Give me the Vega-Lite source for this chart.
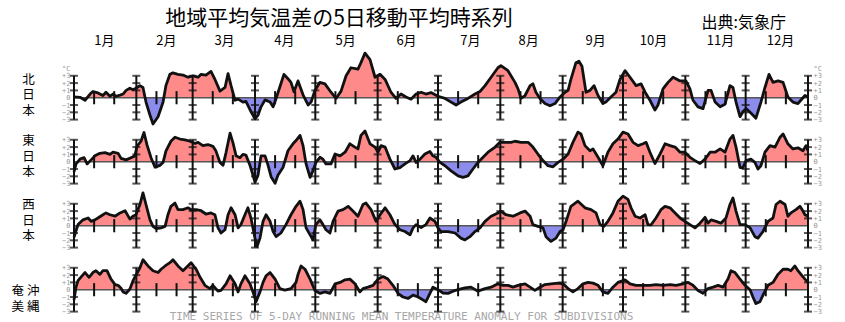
{
"$schema":"https://vega.github.io/schema/vega-lite/v6.json",
"background":"white",
"padding":{"left":11,"top":8,"right":0,"bottom":0},
"title":{"text":"地域平均気温差の5日移動平均時系列","font":"Noto Sans CJK JP","fontSize":21,"fontWeight":"normal","color":"#000","anchor":"middle","frame":"group","dx":-102,"offset":0,"dy":14},
"spacing":0,
"bounds":"flush",
"datasets":{
"n":[{"d":0,"v":0.1},{"d":3,"v":0.05},{"d":5.5,"v":-0.35},{"d":8,"v":0.5},{"d":9.4,"v":0.85},{"d":11.9,"v":0.65},{"d":14.4,"v":0.3},{"d":15.9,"v":0.75},{"d":17.9,"v":0.2},{"d":19.4,"v":0.5},{"d":20.9,"v":0.2},{"d":22.9,"v":0.35},{"d":24.4,"v":0.5},{"d":25.9,"v":1.0},{"d":27.8,"v":1.3},{"d":29.3,"v":1.1},{"d":30.8,"v":1.3},{"d":32.8,"v":1.65},{"d":34.3,"v":1.4},{"d":35.8,"v":-0.6},{"d":37.8,"v":-2.4},{"d":39.3,"v":-3.6},{"d":41.8,"v":-2.6},{"d":44.3,"v":-0.6},{"d":45.7,"v":1.65},{"d":47.7,"v":3.2},{"d":49.2,"v":3.4},{"d":51.7,"v":3.2},{"d":54.2,"v":3.1},{"d":56.7,"v":2.8},{"d":59.2,"v":3.0},{"d":61.7,"v":2.8},{"d":63.2,"v":3.2},{"d":65.6,"v":3.1},{"d":68.1,"v":3.6},{"d":70.1,"v":2.5},{"d":72.6,"v":0.9},{"d":75.1,"v":1.4},{"d":76.6,"v":3.3},{"d":78.1,"v":1.65},{"d":80.1,"v":-0.35},{"d":81.6,"v":-0.2},{"d":84,"v":-0.6},{"d":85.5,"v":-0.5},{"d":88,"v":-1.9},{"d":90,"v":-2.9},{"d":91.5,"v":-2.4},{"d":93,"v":-1.25},{"d":95,"v":-0.3},{"d":97.5,"v":-0.6},{"d":99,"v":-1.25},{"d":100.5,"v":-0.1},{"d":102.4,"v":1.5},{"d":104.4,"v":3.2},{"d":106.4,"v":2.6},{"d":107.9,"v":2.1},{"d":109.4,"v":0.8},{"d":111.4,"v":2.3},{"d":113.9,"v":0.4},{"d":116.4,"v":-1.0},{"d":117.9,"v":-0.6},{"d":119.8,"v":1.0},{"d":122.3,"v":2.1},{"d":124.8,"v":1.9},{"d":127.8,"v":0.75},{"d":130.3,"v":-0.1},{"d":132.8,"v":0.9},{"d":135.3,"v":3.0},{"d":137.7,"v":4.1},{"d":141.2,"v":3.9},{"d":142.7,"v":4.8},{"d":144.7,"v":6.1},{"d":147.2,"v":5.2},{"d":149.7,"v":2.8},{"d":152.2,"v":3.2},{"d":154.7,"v":2.5},{"d":157.6,"v":0.75},{"d":160.1,"v":-0.1},{"d":162.6,"v":0.5},{"d":165.1,"v":0.1},{"d":167.6,"v":-0.2},{"d":170.1,"v":0.5},{"d":172.6,"v":0.75},{"d":175,"v":0.5},{"d":177.5,"v":0.7},{"d":181,"v":0.2},{"d":184.5,"v":-0.1},{"d":187.5,"v":-0.6},{"d":190,"v":-1.0},{"d":192.4,"v":-0.6},{"d":195.9,"v":-0.1},{"d":199.4,"v":0.5},{"d":201.9,"v":0.85},{"d":204.4,"v":1.65},{"d":207.4,"v":2.8},{"d":210.8,"v":4.1},{"d":212.3,"v":4.4},{"d":215.8,"v":3.7},{"d":219.3,"v":2.1},{"d":220.8,"v":1.2},{"d":222.3,"v":-0.1},{"d":224.3,"v":0.3},{"d":226.8,"v":1.65},{"d":228.2,"v":1.9},{"d":229.7,"v":0.75},{"d":231.7,"v":-0.1},{"d":234.2,"v":-0.8},{"d":236.7,"v":-1.1},{"d":239.2,"v":-0.8},{"d":241.7,"v":0.1},{"d":244.2,"v":0.75},{"d":245.7,"v":1.0},{"d":247.1,"v":2.5},{"d":249.6,"v":4.8},{"d":251.1,"v":5.0},{"d":252.6,"v":4.3},{"d":254.6,"v":0.75},{"d":256.6,"v":1.0},{"d":258.6,"v":1.65},{"d":260.6,"v":0.3},{"d":263,"v":-0.8},{"d":264.5,"v":-0.6},{"d":267,"v":0.1},{"d":269.5,"v":0.75},{"d":271.5,"v":2.5},{"d":274,"v":3.7},{"d":276.5,"v":2.8},{"d":279.5,"v":1.65},{"d":282,"v":1.9},{"d":284,"v":0.75},{"d":286.4,"v":-0.35},{"d":288.9,"v":-1.7},{"d":290.4,"v":-1.0},{"d":292.9,"v":1.2},{"d":295.4,"v":2.1},{"d":297.9,"v":2.8},{"d":301.4,"v":2.3},{"d":304.3,"v":2.3},{"d":306.3,"v":1.2},{"d":307.8,"v":-0.35},{"d":310.3,"v":-1.25},{"d":312.8,"v":-1.5},{"d":315.3,"v":1.0},{"d":316.8,"v":1.0},{"d":318.8,"v":-0.6},{"d":321.3,"v":-1.25},{"d":323.7,"v":-0.9},{"d":326.2,"v":1.65},{"d":327.7,"v":1.4},{"d":329.2,"v":-0.6},{"d":331.2,"v":-2.6},{"d":332.7,"v":-1.9},{"d":334.2,"v":-1.5},{"d":336.6,"v":-2.1},{"d":339.1,"v":-2.8},{"d":341.6,"v":-0.6},{"d":343.6,"v":1.4},{"d":345.6,"v":3.2},{"d":347.6,"v":2.1},{"d":350.1,"v":2.3},{"d":352.6,"v":2.1},{"d":355,"v":0.1},{"d":357.5,"v":-0.6},{"d":360,"v":-0.8},{"d":363.5,"v":0.3},{"d":365,"v":0.1}],
"e":[{"d":0,"v":-1.4},{"d":1,"v":-0.3},{"d":3,"v":0.35},{"d":5,"v":0.55},{"d":6.5,"v":-0.3},{"d":8.5,"v":0.25},{"d":10.4,"v":0.8},{"d":12.9,"v":1.15},{"d":15.4,"v":1.25},{"d":17.9,"v":1.0},{"d":19.4,"v":1.3},{"d":21.9,"v":1.15},{"d":23.4,"v":0.45},{"d":25.9,"v":0.25},{"d":28.3,"v":0.55},{"d":30.3,"v":0.8},{"d":31.3,"v":2.1},{"d":33.3,"v":2.8},{"d":34.8,"v":4.0},{"d":36.3,"v":2.3},{"d":38.3,"v":0.55},{"d":40.3,"v":-0.75},{"d":42.8,"v":-0.5},{"d":44.3,"v":-0.1},{"d":45.7,"v":1.45},{"d":48.2,"v":2.8},{"d":50.2,"v":3.35},{"d":52.7,"v":3.1},{"d":55.2,"v":3.0},{"d":57.7,"v":2.8},{"d":60.2,"v":2.5},{"d":61.7,"v":2.65},{"d":64.1,"v":2.2},{"d":66.6,"v":2.35},{"d":69.1,"v":2.1},{"d":70.6,"v":1.45},{"d":72.6,"v":-0.1},{"d":74.1,"v":-0.5},{"d":75.6,"v":1.25},{"d":77.6,"v":3.9},{"d":79.1,"v":2.55},{"d":80.6,"v":0.8},{"d":82.5,"v":0.55},{"d":84,"v":1.0},{"d":85.5,"v":0.9},{"d":87.5,"v":-0.5},{"d":89,"v":-1.85},{"d":90,"v":-2.8},{"d":91.5,"v":-1.85},{"d":93,"v":0.8},{"d":95,"v":0.8},{"d":96.5,"v":-0.5},{"d":98,"v":-2.05},{"d":100,"v":-2.95},{"d":101.4,"v":-1.85},{"d":103.9,"v":-0.8},{"d":106.4,"v":1.5},{"d":108.9,"v":2.45},{"d":110.4,"v":2.9},{"d":112.4,"v":3.6},{"d":113.9,"v":2.2},{"d":115.4,"v":-0.3},{"d":117.4,"v":-2.15},{"d":118.8,"v":-1.25},{"d":120.3,"v":-0.1},{"d":122.3,"v":0.6},{"d":123.8,"v":0.35},{"d":125.3,"v":-0.3},{"d":127.8,"v":-0.3},{"d":129.8,"v":1.05},{"d":132.3,"v":0.8},{"d":134.8,"v":1.3},{"d":137.2,"v":2.45},{"d":139.7,"v":2.0},{"d":141.2,"v":1.75},{"d":142.7,"v":3.6},{"d":144.7,"v":4.2},{"d":147.2,"v":2.45},{"d":149.7,"v":2.0},{"d":151.2,"v":1.3},{"d":152.7,"v":2.2},{"d":154.7,"v":2.0},{"d":157.1,"v":0.35},{"d":159.6,"v":-1.0},{"d":162.1,"v":-0.8},{"d":164.6,"v":-0.3},{"d":167.1,"v":0.15},{"d":168.6,"v":0.8},{"d":170.1,"v":-0.1},{"d":172.1,"v":0.35},{"d":174.5,"v":1.05},{"d":177,"v":1.4},{"d":178.5,"v":0.8},{"d":180,"v":0.6},{"d":182,"v":-0.1},{"d":184.5,"v":-0.55},{"d":187.5,"v":-1.25},{"d":191,"v":-1.95},{"d":193.4,"v":-2.15},{"d":195.9,"v":-1.95},{"d":198.4,"v":-1.0},{"d":200.9,"v":-0.1},{"d":203.4,"v":0.6},{"d":205.9,"v":1.3},{"d":209.4,"v":2.0},{"d":211.8,"v":2.65},{"d":214.3,"v":2.65},{"d":217.3,"v":2.65},{"d":219.3,"v":2.8},{"d":222.3,"v":2.65},{"d":225.8,"v":2.65},{"d":228.2,"v":2.0},{"d":230.7,"v":1.05},{"d":233.2,"v":0.15},{"d":235.7,"v":-0.55},{"d":238.2,"v":-0.7},{"d":240.7,"v":-0.1},{"d":243.2,"v":0.35},{"d":245.7,"v":1.05},{"d":248.1,"v":2.65},{"d":250.6,"v":4.05},{"d":252.1,"v":3.8},{"d":254.1,"v":2.2},{"d":256.6,"v":1.5},{"d":258.1,"v":1.75},{"d":260.6,"v":0.6},{"d":263,"v":-0.55},{"d":265.5,"v":1.3},{"d":268,"v":2.45},{"d":270.5,"v":3.1},{"d":273,"v":4.05},{"d":275.5,"v":3.8},{"d":278,"v":2.65},{"d":280.5,"v":2.2},{"d":283,"v":2.45},{"d":284.5,"v":2.65},{"d":286.4,"v":1.3},{"d":288.9,"v":-0.25},{"d":291.4,"v":1.05},{"d":293.9,"v":2.45},{"d":296.4,"v":2.2},{"d":298.9,"v":2.0},{"d":301.4,"v":1.3},{"d":303.8,"v":1.3},{"d":306.3,"v":0.6},{"d":308.8,"v":0.15},{"d":311.3,"v":-0.25},{"d":313.8,"v":0.35},{"d":316.3,"v":1.3},{"d":318.8,"v":1.3},{"d":321.3,"v":1.75},{"d":323.7,"v":1.3},{"d":326.2,"v":3.1},{"d":327.7,"v":3.6},{"d":329.2,"v":2.0},{"d":331.2,"v":-0.8},{"d":332.7,"v":-0.8},{"d":334.2,"v":0.15},{"d":336.6,"v":0.35},{"d":338.6,"v":-0.1},{"d":340.1,"v":-1.0},{"d":341.6,"v":-0.55},{"d":343.6,"v":1.3},{"d":346.1,"v":2.2},{"d":348.6,"v":2.0},{"d":351.1,"v":3.35},{"d":352.6,"v":3.8},{"d":355,"v":2.45},{"d":357.5,"v":1.75},{"d":360,"v":1.9},{"d":362.5,"v":1.5},{"d":364,"v":2.2},{"d":365,"v":1.5}],
"w":[{"d":0,"v":-1.6},{"d":2,"v":0.15},{"d":4.5,"v":0.8},{"d":7,"v":1.05},{"d":8.5,"v":0.6},{"d":10.4,"v":0.8},{"d":11.9,"v":1.05},{"d":14.4,"v":1.5},{"d":15.9,"v":1.75},{"d":17.9,"v":1.5},{"d":20.4,"v":1.3},{"d":22.9,"v":1.75},{"d":25.4,"v":2.05},{"d":27.8,"v":0.9},{"d":29.3,"v":1.3},{"d":30.8,"v":1.5},{"d":32.8,"v":2.9},{"d":34.3,"v":4.5},{"d":35.8,"v":2.9},{"d":37.8,"v":0.8},{"d":39.3,"v":-0.1},{"d":40.8,"v":-0.4},{"d":43.3,"v":-0.3},{"d":45.3,"v":-0.1},{"d":46.7,"v":1.5},{"d":48.2,"v":2.65},{"d":50.2,"v":3.1},{"d":51.7,"v":2.2},{"d":54.2,"v":2.2},{"d":56.7,"v":2.45},{"d":58.2,"v":2.2},{"d":60.7,"v":2.2},{"d":63.2,"v":2.05},{"d":65.6,"v":1.6},{"d":68.1,"v":1.75},{"d":70.1,"v":1.5},{"d":71.6,"v":-0.3},{"d":73.1,"v":-1.0},{"d":75.1,"v":-0.55},{"d":76.6,"v":1.5},{"d":78.1,"v":2.45},{"d":80.1,"v":1.5},{"d":81.6,"v":-0.3},{"d":83,"v":0.15},{"d":85,"v":1.5},{"d":86.5,"v":2.45},{"d":88,"v":1.05},{"d":90,"v":-1.7},{"d":91,"v":-2.85},{"d":92.5,"v":-1.7},{"d":94,"v":0.6},{"d":95.5,"v":1.5},{"d":97.5,"v":0.6},{"d":99,"v":-0.8},{"d":100.5,"v":-1.5},{"d":102.9,"v":-1.0},{"d":105.4,"v":0.15},{"d":107.9,"v":1.5},{"d":110.4,"v":2.65},{"d":112.4,"v":3.35},{"d":113.9,"v":2.2},{"d":115.4,"v":-0.3},{"d":117.4,"v":-1.25},{"d":118.8,"v":-1.95},{"d":120.3,"v":0.15},{"d":122.3,"v":0.8},{"d":123.8,"v":0.15},{"d":125.3,"v":-0.55},{"d":127.3,"v":-1.0},{"d":128.8,"v":0.6},{"d":131.3,"v":2.0},{"d":133.8,"v":2.2},{"d":136.3,"v":2.65},{"d":138.7,"v":2.0},{"d":141.2,"v":1.3},{"d":143.7,"v":2.9},{"d":145.2,"v":3.1},{"d":147.7,"v":2.2},{"d":150.2,"v":0.6},{"d":152.2,"v":1.5},{"d":154.7,"v":2.45},{"d":157.1,"v":1.5},{"d":159.6,"v":0.15},{"d":162.1,"v":-0.55},{"d":164.6,"v":-0.8},{"d":167.1,"v":-1.25},{"d":168.6,"v":-0.3},{"d":170.1,"v":0.15},{"d":172.6,"v":-0.25},{"d":175,"v":0.15},{"d":177,"v":1.05},{"d":179.5,"v":0.6},{"d":181,"v":-0.3},{"d":182.5,"v":-0.8},{"d":186,"v":-0.8},{"d":189.5,"v":-1.0},{"d":192.4,"v":-1.7},{"d":194.4,"v":-1.95},{"d":196.9,"v":-1.5},{"d":199.4,"v":-0.8},{"d":201.9,"v":-0.3},{"d":204.4,"v":0.6},{"d":207.4,"v":1.3},{"d":210.8,"v":1.75},{"d":212.3,"v":2.0},{"d":214.8,"v":1.5},{"d":218.3,"v":1.3},{"d":221.8,"v":1.75},{"d":224.3,"v":2.0},{"d":226.8,"v":1.3},{"d":228.2,"v":0.15},{"d":230.7,"v":-0.1},{"d":233.2,"v":-0.3},{"d":234.7,"v":-1.5},{"d":237.2,"v":-2.15},{"d":239.7,"v":-1.7},{"d":241.7,"v":-0.8},{"d":243.2,"v":-0.55},{"d":244.7,"v":0.6},{"d":247.1,"v":2.65},{"d":250.6,"v":3.35},{"d":254.1,"v":2.45},{"d":257.1,"v":2.2},{"d":259.6,"v":1.75},{"d":261.6,"v":0.15},{"d":263.5,"v":-0.1},{"d":265.5,"v":0.6},{"d":268,"v":1.75},{"d":270.5,"v":3.35},{"d":273,"v":4.05},{"d":275.5,"v":3.6},{"d":277,"v":2.45},{"d":279,"v":1.3},{"d":281.5,"v":1.05},{"d":284,"v":1.5},{"d":285.4,"v":0.15},{"d":286.9,"v":0.1},{"d":289.4,"v":1.05},{"d":291.9,"v":2.2},{"d":293.9,"v":2.65},{"d":296.4,"v":2.45},{"d":298.9,"v":1.75},{"d":301.4,"v":1.05},{"d":303.8,"v":0.6},{"d":306.3,"v":0.15},{"d":308.8,"v":-0.3},{"d":311.3,"v":0.35},{"d":313.8,"v":1.15},{"d":315.3,"v":0.35},{"d":316.8,"v":0.8},{"d":319.3,"v":0.6},{"d":321.7,"v":0.35},{"d":324.2,"v":1.05},{"d":326.2,"v":2.9},{"d":327.7,"v":3.8},{"d":329.2,"v":2.0},{"d":331.2,"v":0.15},{"d":333.7,"v":0.15},{"d":336.2,"v":-0.3},{"d":338.6,"v":-1.5},{"d":340.1,"v":-1.7},{"d":342.6,"v":-0.8},{"d":345.1,"v":0.6},{"d":347.6,"v":1.05},{"d":349.1,"v":2.9},{"d":351.1,"v":3.35},{"d":353.6,"v":2.9},{"d":355,"v":1.3},{"d":356.5,"v":1.75},{"d":359,"v":2.2},{"d":361,"v":2.65},{"d":362.5,"v":2.0},{"d":363.5,"v":1.5},{"d":365,"v":1.3}],
"o":[{"d":0,"v":-1.4},{"d":1,"v":0.35},{"d":2,"v":1.25},{"d":4,"v":1.9},{"d":5.5,"v":2.35},{"d":7.5,"v":1.7},{"d":9.4,"v":2.35},{"d":10.9,"v":2.6},{"d":12.9,"v":2.1},{"d":14.4,"v":2.6},{"d":16.4,"v":2.6},{"d":18.4,"v":1.45},{"d":20.4,"v":0.7},{"d":21.9,"v":0.6},{"d":23.4,"v":0.2},{"d":24.4,"v":-0.3},{"d":25.9,"v":-0.5},{"d":27.8,"v":0.1},{"d":29.3,"v":1.2},{"d":30.8,"v":2.0},{"d":32.8,"v":3.0},{"d":34.3,"v":4.1},{"d":36.8,"v":3.25},{"d":39.3,"v":2.6},{"d":41.8,"v":2.35},{"d":43.3,"v":2.8},{"d":45.3,"v":3.25},{"d":47.7,"v":3.7},{"d":49.2,"v":4.1},{"d":51.7,"v":3.25},{"d":54.2,"v":2.6},{"d":55.7,"v":3.0},{"d":58.2,"v":3.7},{"d":60.7,"v":2.8},{"d":62.7,"v":1.7},{"d":65.1,"v":0.6},{"d":67.6,"v":0.15},{"d":69.1,"v":0.6},{"d":71.6,"v":-0.2},{"d":73.1,"v":-0.1},{"d":75.6,"v":0.8},{"d":77.6,"v":1.9},{"d":80.1,"v":0.8},{"d":81.6,"v":-0.3},{"d":83,"v":0.8},{"d":85,"v":1.9},{"d":87.5,"v":0.8},{"d":89,"v":-0.3},{"d":90.5,"v":-1.65},{"d":92.5,"v":-0.3},{"d":94,"v":1.0},{"d":95.5,"v":1.9},{"d":97.5,"v":2.35},{"d":100,"v":1.45},{"d":102.4,"v":0.15},{"d":104.9,"v":-0.05},{"d":107.9,"v":0.15},{"d":110.4,"v":1.0},{"d":111.4,"v":2.1},{"d":112.9,"v":3.25},{"d":114.9,"v":2.8},{"d":117.4,"v":1.45},{"d":119.8,"v":-0.1},{"d":122.3,"v":-0.5},{"d":124.8,"v":-0.3},{"d":127.3,"v":-0.5},{"d":129.8,"v":0.8},{"d":132.3,"v":1.0},{"d":134.8,"v":1.35},{"d":137.2,"v":1.45},{"d":139.7,"v":0.8},{"d":142.2,"v":-0.3},{"d":143.7,"v":0.15},{"d":146.2,"v":0.35},{"d":148.7,"v":0.6},{"d":151.2,"v":1.45},{"d":153.7,"v":1.8},{"d":156.1,"v":1.45},{"d":158.6,"v":0.6},{"d":161.1,"v":-0.5},{"d":163.6,"v":-1.0},{"d":166.1,"v":-1.2},{"d":168.6,"v":-0.75},{"d":171.1,"v":-1.0},{"d":173.5,"v":-1.4},{"d":175,"v":-1.65},{"d":177,"v":-0.5},{"d":178.5,"v":0.35},{"d":181,"v":0},{"d":183.5,"v":-0.45},{"d":186,"v":-0.5},{"d":188.5,"v":-0.2},{"d":191,"v":0},{"d":194.4,"v":0.25},{"d":197.4,"v":0.35},{"d":200.9,"v":-0.2},{"d":204.4,"v":0.15},{"d":207.4,"v":0.35},{"d":210.8,"v":0.8},{"d":213.3,"v":0.6},{"d":215.8,"v":0.6},{"d":218.3,"v":0.35},{"d":220.8,"v":0.6},{"d":224.3,"v":0.8},{"d":226.8,"v":0.35},{"d":229.2,"v":-0.1},{"d":231.7,"v":0.35},{"d":234.2,"v":0.7},{"d":237.2,"v":0.8},{"d":240.7,"v":0.9},{"d":243.2,"v":0.8},{"d":245.7,"v":0.15},{"d":248.1,"v":-0.3},{"d":250.6,"v":0.15},{"d":253.1,"v":0.8},{"d":255.6,"v":1.0},{"d":258.1,"v":0.9},{"d":260.6,"v":0.6},{"d":263,"v":-0.3},{"d":265.5,"v":-0.5},{"d":268,"v":0.35},{"d":270.5,"v":1.0},{"d":274,"v":1.35},{"d":276.5,"v":0.8},{"d":279.5,"v":0.6},{"d":283,"v":0.6},{"d":286.4,"v":0.6},{"d":289.4,"v":0.7},{"d":292.9,"v":0.6},{"d":296.4,"v":0.7},{"d":299.4,"v":0.6},{"d":302.8,"v":0.8},{"d":305.3,"v":1.0},{"d":307.8,"v":0.6},{"d":310.3,"v":-0.1},{"d":312.8,"v":-0.5},{"d":315.3,"v":0.15},{"d":317.8,"v":0.35},{"d":320.3,"v":0.6},{"d":322.7,"v":0.35},{"d":325.2,"v":1.45},{"d":326.7,"v":2.6},{"d":328.7,"v":2.35},{"d":331.2,"v":1.45},{"d":333.7,"v":0.6},{"d":336.2,"v":0},{"d":337.6,"v":-1.0},{"d":339.1,"v":-1.9},{"d":341.1,"v":-1.65},{"d":342.6,"v":-0.75},{"d":345.1,"v":0.6},{"d":347.6,"v":1.0},{"d":350.1,"v":2.1},{"d":352.6,"v":2.8},{"d":355,"v":2.8},{"d":356.5,"v":2.6},{"d":358.5,"v":3.25},{"d":360,"v":2.6},{"d":361.5,"v":2.1},{"d":363.5,"v":1.45},{"d":365,"v":1.0}],
"bt":[{"d":0,"lv":[-3,-2,-1,1,2,3]},{"d":31,"lv":[-3,-2,-1,1,2,3]},{"d":59,"lv":[-3,-2,-1,1,2,3]},{"d":90,"lv":[-3,-2,-1,1,2,3]},{"d":120,"lv":[-3,-2,-1,1,2,3]},{"d":151,"lv":[-3,-2,-1,1,2,3]},{"d":181,"lv":[-3,-2,-1,1,2,3]},{"d":212,"lv":[-3,-2,-1,1,2,3]},{"d":243,"lv":[-3,-2,-1,1,2,3]},{"d":273,"lv":[-3,-2,-1,1,2,3]},{"d":304,"lv":[-3,-2,-1,1,2,3]},{"d":334,"lv":[-3,-2,-1,1,2,3]},{"d":365,"lv":[-3,-2,-1,1,2,3]}],
"st":[{"d":10},{"d":20},{"d":41},{"d":51},{"d":69},{"d":79},{"d":100},{"d":110},{"d":130},{"d":140},{"d":161},{"d":171},{"d":191},{"d":201},{"d":222},{"d":232},{"d":253},{"d":263},{"d":283},{"d":293},{"d":314},{"d":324},{"d":344},{"d":354}]
},
"vconcat":[
{"width":734,"height":63.4,
 "title":{"text":"出典:気象庁","anchor":"end","frame":"group","font":"Noto Sans CJK JP","fontSize":16,"fontWeight":"normal","color":"#000","dx":-22,"offset":3},
 "resolve":{"axis":{"x":"independent","y":"independent"}},
 "layer":[
  {"data":{"name":"n"},"mark":{"type":"area","interpolate":"linear","color":{"gradient":"linear","x1":0,"y1":0,"x2":0,"y2":1,"stops":[{"offset":0,"color":"#ff8a8a"},{"offset":0.6289,"color":"#ff8a8a"},{"offset":0.6289,"color":"#8c8cec"},{"offset":1,"color":"#8c8cec"}]}},
   "encoding":{"x":{"field":"d","type":"quantitative","scale":{"domain":[0,365],"nice":false,"zero":false},
     "axis":{"orient":"top","values":[14.9,45.7,74.6,104.4,134.8,165.1,196.9,225.8,259.1,287.9,321.2,351.1],"labelExpr":"(indexof([14.9,45.7,74.6,104.4,134.8,165.1,196.9,225.8,259.1,287.9,321.2,351.1], datum.value) + 1) + '月'","labelFont":"Noto Sans CJK JP","labelFontSize":13,"labelColor":"#000","labelPadding":19,"tickSize":0,"title":null}},
    "y":{"field":"v","type":"quantitative","scale":{"domain":[-4.34,4.34],"nice":false,"zero":false},
     "axis":{"orient":"left","values":[-3,-2,-1,0,1,2,3,4],"labelExpr":"datum.value > 3.5 ? '°C' : datum.value > 0 ? '+' + datum.value : datum.value < 0 ? '−' + (-datum.value) : '0'","title":["北","日","本"],"titleY":13}},
    "y2":{"datum":0}}},
  {"data":{"values":[{}]},"mark":{"type":"rule","color":"#555","strokeWidth":1.6},"encoding":{"y":{"datum":0,"type":"quantitative","scale":{"domain":[-4.34,4.34],"nice":false,"zero":false},"axis":null}}},
  {"data":{"name":"bt"},"mark":{"type":"rule","color":"#111","strokeWidth":2},"encoding":{"x":{"field":"d","type":"quantitative","scale":{"domain":[0,365],"nice":false,"zero":false},"axis":null},"y":{"datum":-3,"type":"quantitative","scale":{"domain":[-4.34,4.34],"nice":false,"zero":false},"axis":null},"y2":{"datum":3}}},
  {"data":{"name":"bt"},"transform":[{"flatten":["lv"]}],"mark":{"type":"tick","orient":"horizontal","color":"#111","size":8,"thickness":2},"encoding":{"x":{"field":"d","type":"quantitative","scale":{"domain":[0,365],"nice":false,"zero":false},"axis":null},"y":{"field":"lv","type":"quantitative","scale":{"domain":[-4.34,4.34],"nice":false,"zero":false},"axis":null}}},
  {"data":{"name":"st"},"mark":{"type":"rule","color":"#111","strokeWidth":2},"encoding":{"x":{"field":"d","type":"quantitative","scale":{"domain":[0,365],"nice":false,"zero":false},"axis":null},"y":{"datum":-0.9,"type":"quantitative","scale":{"domain":[-4.34,4.34],"nice":false,"zero":false},"axis":null},"y2":{"datum":0.9}}},
  {"data":{"name":"n"},"mark":{"type":"line","interpolate":"linear","color":"#111","strokeWidth":2.8,"strokeJoin":"round"},
   "encoding":{"x":{"field":"d","type":"quantitative","scale":{"domain":[0,365],"nice":false,"zero":false},"axis":null},
    "y":{"field":"v","type":"quantitative","scale":{"domain":[-4.34,4.34],"nice":false,"zero":false},
     "axis":{"orient":"right","values":[-3,-2,-1,0,1,2,3,4],"labelExpr":"datum.value > 3.5 ? '°C' : datum.value > 0 ? '+' + datum.value : datum.value < 0 ? '−' + (-datum.value) : '0'","title":null,"labelPadding":5}}}}
 ]},
{"width":734,"height":63.4,
 "resolve":{"axis":{"x":"independent","y":"independent"}},
 "layer":[
  {"data":{"name":"e"},"mark":{"type":"area","interpolate":"linear","color":{"gradient":"linear","x1":0,"y1":0,"x2":0,"y2":1,"stops":[{"offset":0,"color":"#ff8a8a"},{"offset":0.5874,"color":"#ff8a8a"},{"offset":0.5874,"color":"#8c8cec"},{"offset":1,"color":"#8c8cec"}]}},
   "encoding":{"x":{"field":"d","type":"quantitative","scale":{"domain":[0,365],"nice":false,"zero":false},"axis":null},
    "y":{"field":"v","type":"quantitative","scale":{"domain":[-4.34,4.34],"nice":false,"zero":false},
     "axis":{"orient":"left","values":[-3,-2,-1,0,1,2,3],"labelExpr":"datum.value > 0 ? '+' + datum.value : datum.value < 0 ? '−' + (-datum.value) : '0'","title":["東","日","本"],"titleY":10.5}},
    "y2":{"datum":0}}},
  {"data":{"values":[{}]},"mark":{"type":"rule","color":"#555","strokeWidth":1.6},"encoding":{"y":{"datum":0,"type":"quantitative","scale":{"domain":[-4.34,4.34],"nice":false,"zero":false},"axis":null}}},
  {"data":{"name":"bt"},"mark":{"type":"rule","color":"#111","strokeWidth":2},"encoding":{"x":{"field":"d","type":"quantitative","scale":{"domain":[0,365],"nice":false,"zero":false},"axis":null},"y":{"datum":-3,"type":"quantitative","scale":{"domain":[-4.34,4.34],"nice":false,"zero":false},"axis":null},"y2":{"datum":3}}},
  {"data":{"name":"bt"},"transform":[{"flatten":["lv"]}],"mark":{"type":"tick","orient":"horizontal","color":"#111","size":8,"thickness":2},"encoding":{"x":{"field":"d","type":"quantitative","scale":{"domain":[0,365],"nice":false,"zero":false},"axis":null},"y":{"field":"lv","type":"quantitative","scale":{"domain":[-4.34,4.34],"nice":false,"zero":false},"axis":null}}},
  {"data":{"name":"st"},"mark":{"type":"rule","color":"#111","strokeWidth":2},"encoding":{"x":{"field":"d","type":"quantitative","scale":{"domain":[0,365],"nice":false,"zero":false},"axis":null},"y":{"datum":-0.9,"type":"quantitative","scale":{"domain":[-4.34,4.34],"nice":false,"zero":false},"axis":null},"y2":{"datum":0.9}}},
  {"data":{"name":"e"},"mark":{"type":"line","interpolate":"linear","color":"#111","strokeWidth":2.8,"strokeJoin":"round"},
   "encoding":{"x":{"field":"d","type":"quantitative","scale":{"domain":[0,365],"nice":false,"zero":false},"axis":null},
    "y":{"field":"v","type":"quantitative","scale":{"domain":[-4.34,4.34],"nice":false,"zero":false},
     "axis":{"orient":"right","values":[-3,-2,-1,0,1,2,3],"labelExpr":"datum.value > 0 ? '+' + datum.value : datum.value < 0 ? '−' + (-datum.value) : '0'","title":null,"labelPadding":5}}}}
 ]},
{"width":734,"height":63.4,
 "resolve":{"axis":{"x":"independent","y":"independent"}},
 "layer":[
  {"data":{"name":"w"},"mark":{"type":"area","interpolate":"linear","color":{"gradient":"linear","x1":0,"y1":0,"x2":0,"y2":1,"stops":[{"offset":0,"color":"#ff8a8a"},{"offset":0.6122,"color":"#ff8a8a"},{"offset":0.6122,"color":"#8c8cec"},{"offset":1,"color":"#8c8cec"}]}},
   "encoding":{"x":{"field":"d","type":"quantitative","scale":{"domain":[0,365],"nice":false,"zero":false},"axis":null},
    "y":{"field":"v","type":"quantitative","scale":{"domain":[-4.34,4.34],"nice":false,"zero":false},
     "axis":{"orient":"left","values":[-3,-2,-1,0,1,2,3],"labelExpr":"datum.value > 0 ? '+' + datum.value : datum.value < 0 ? '−' + (-datum.value) : '0'","title":["西","日","本"],"titleY":10.5}},
    "y2":{"datum":0}}},
  {"data":{"values":[{}]},"mark":{"type":"rule","color":"#555","strokeWidth":1.6},"encoding":{"y":{"datum":0,"type":"quantitative","scale":{"domain":[-4.34,4.34],"nice":false,"zero":false},"axis":null}}},
  {"data":{"name":"bt"},"mark":{"type":"rule","color":"#111","strokeWidth":2},"encoding":{"x":{"field":"d","type":"quantitative","scale":{"domain":[0,365],"nice":false,"zero":false},"axis":null},"y":{"datum":-3,"type":"quantitative","scale":{"domain":[-4.34,4.34],"nice":false,"zero":false},"axis":null},"y2":{"datum":3}}},
  {"data":{"name":"bt"},"transform":[{"flatten":["lv"]}],"mark":{"type":"tick","orient":"horizontal","color":"#111","size":8,"thickness":2},"encoding":{"x":{"field":"d","type":"quantitative","scale":{"domain":[0,365],"nice":false,"zero":false},"axis":null},"y":{"field":"lv","type":"quantitative","scale":{"domain":[-4.34,4.34],"nice":false,"zero":false},"axis":null}}},
  {"data":{"name":"st"},"mark":{"type":"rule","color":"#111","strokeWidth":2},"encoding":{"x":{"field":"d","type":"quantitative","scale":{"domain":[0,365],"nice":false,"zero":false},"axis":null},"y":{"datum":-0.9,"type":"quantitative","scale":{"domain":[-4.34,4.34],"nice":false,"zero":false},"axis":null},"y2":{"datum":0.9}}},
  {"data":{"name":"w"},"mark":{"type":"line","interpolate":"linear","color":"#111","strokeWidth":2.8,"strokeJoin":"round"},
   "encoding":{"x":{"field":"d","type":"quantitative","scale":{"domain":[0,365],"nice":false,"zero":false},"axis":null},
    "y":{"field":"v","type":"quantitative","scale":{"domain":[-4.34,4.34],"nice":false,"zero":false},
     "axis":{"orient":"right","values":[-3,-2,-1,0,1,2,3],"labelExpr":"datum.value > 0 ? '+' + datum.value : datum.value < 0 ? '−' + (-datum.value) : '0'","title":null,"labelPadding":5}}}}
 ]},
{"width":734,"height":63.4,
 "resolve":{"axis":{"x":"independent","y":"independent"}},
 "layer":[
  {"data":{"name":"o"},"mark":{"type":"area","interpolate":"linear","color":{"gradient":"linear","x1":0,"y1":0,"x2":0,"y2":1,"stops":[{"offset":0,"color":"#ff8a8a"},{"offset":0.6833,"color":"#ff8a8a"},{"offset":0.6833,"color":"#8c8cec"},{"offset":1,"color":"#8c8cec"}]}},
   "encoding":{"x":{"field":"d","type":"quantitative","scale":{"domain":[0,365],"nice":false,"zero":false},
     "axis":{"orient":"bottom","labels":false,"tickSize":0,"title":"TIME SERIES OF 5-DAY RUNNING MEAN TEMPERATURE ANOMALY FOR SUBDIVISIONS","titleX":327,"titleY":-4.5,"titleAlign":"center","titleBaseline":"middle","titleFont":"DejaVu Sans Mono","titleFontSize":11,"titleFontWeight":"normal","titleColor":"#a8a8a8"}},
    "y":{"field":"v","type":"quantitative","scale":{"domain":[-4.34,4.34],"nice":false,"zero":false},
     "axis":{"orient":"left","values":[-3,-2,-1,0,1,2,3],"labelExpr":"datum.value > 0 ? '+' + datum.value : datum.value < 0 ? '−' + (-datum.value) : '0'","title":["奄 沖","美 縄"],"titleY":32.7,"titleX":-49}},
    "y2":{"datum":0}}},
  {"data":{"values":[{}]},"mark":{"type":"rule","color":"#555","strokeWidth":1.6},"encoding":{"y":{"datum":0,"type":"quantitative","scale":{"domain":[-4.34,4.34],"nice":false,"zero":false},"axis":null}}},
  {"data":{"name":"bt"},"mark":{"type":"rule","color":"#111","strokeWidth":2},"encoding":{"x":{"field":"d","type":"quantitative","scale":{"domain":[0,365],"nice":false,"zero":false},"axis":null},"y":{"datum":-3,"type":"quantitative","scale":{"domain":[-4.34,4.34],"nice":false,"zero":false},"axis":null},"y2":{"datum":3}}},
  {"data":{"name":"bt"},"transform":[{"flatten":["lv"]}],"mark":{"type":"tick","orient":"horizontal","color":"#111","size":8,"thickness":2},"encoding":{"x":{"field":"d","type":"quantitative","scale":{"domain":[0,365],"nice":false,"zero":false},"axis":null},"y":{"field":"lv","type":"quantitative","scale":{"domain":[-4.34,4.34],"nice":false,"zero":false},"axis":null}}},
  {"data":{"name":"st"},"mark":{"type":"rule","color":"#111","strokeWidth":2},"encoding":{"x":{"field":"d","type":"quantitative","scale":{"domain":[0,365],"nice":false,"zero":false},"axis":null},"y":{"datum":-0.9,"type":"quantitative","scale":{"domain":[-4.34,4.34],"nice":false,"zero":false},"axis":null},"y2":{"datum":0.9}}},
  {"data":{"name":"o"},"mark":{"type":"line","interpolate":"linear","color":"#111","strokeWidth":2.8,"strokeJoin":"round"},
   "encoding":{"x":{"field":"d","type":"quantitative","scale":{"domain":[0,365],"nice":false,"zero":false},"axis":null},
    "y":{"field":"v","type":"quantitative","scale":{"domain":[-4.34,4.34],"nice":false,"zero":false},
     "axis":{"orient":"right","values":[-3,-2,-1,0,1,2,3],"labelExpr":"datum.value > 0 ? '+' + datum.value : datum.value < 0 ? '−' + (-datum.value) : '0'","title":null,"labelPadding":5}}}}
 ]}
],
"config":{
 "view":{"stroke":null},
 "axisX":{"domain":false,"ticks":false,"grid":false,"labelFlush":false,"labelOverlap":false},
 "axisY":{"domain":false,"ticks":false,"tickSize":0,"grid":false,"labelFont":"DejaVu Sans Mono","labelFontSize":7,"labelColor":"#999999","labelPadding":4,"labelOverlap":false,"labelFlush":false,"titleAngle":0,"titleAlign":"center","titleBaseline":"middle","titleFont":"Noto Sans CJK JP","titleFontSize":12.5,"titleFontWeight":"normal","titleColor":"#000","titleLineHeight":15.5,"titleX":-46}
}
}
